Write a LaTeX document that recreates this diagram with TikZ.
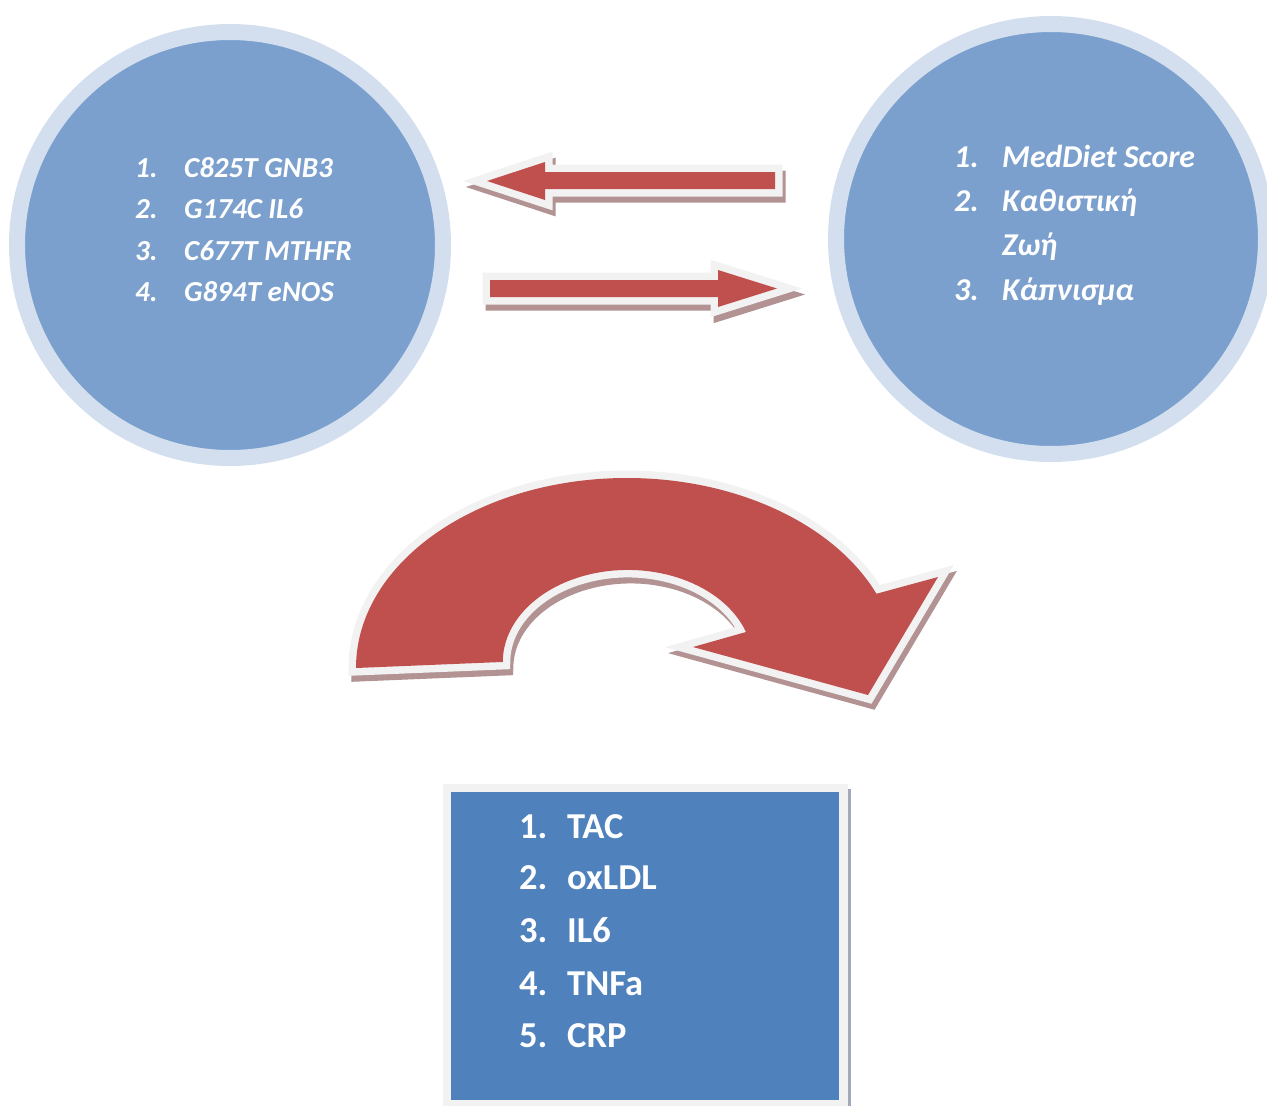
\documentclass[tikz,border=0pt]{standalone}
\usepackage{fontspec}
\setmainfont{Carlito}
\definecolor{ring}{RGB}{211,223,238}
\definecolor{disk}{RGB}{123,160,205}
\definecolor{boxblue}{RGB}{79,129,189}
\definecolor{arrowred}{RGB}{192,80,77}
\definecolor{outl}{RGB}{242,242,242}
\definecolor{shade}{RGB}{178,146,146}
\definecolor{boxshade}{RGB}{160,170,185}
\tikzset{
  bigdisk/.style={circle, fill=disk, draw=ring, line width=16pt, inner sep=0pt},
  itemL/.style={anchor=base west, inner sep=0pt, text=white, font=\fontsize{29}{35}\selectfont\bfseries\itshape},
  itemR/.style={anchor=base west, inner sep=0pt, text=white, font=\fontsize{31.8}{38}\selectfont\bfseries\itshape},
  itemB/.style={anchor=base west, inner sep=0pt, text=white, font=\fontsize{36.5}{43}\selectfont\bfseries},
  arrshadow/.style={fill=shade, draw=shade, line width=15pt, line join=miter},
  arroutline/.style={fill=outl, draw=outl, line width=15pt, line join=miter},
  arrbody/.style={fill=arrowred},
}
\newcommand\blockarrow[2]{%
  \filldraw[arrshadow, shift={#2}] #1;
  \filldraw[arroutline] #1;
  \fill[arrbody] #1;
}
\begin{document}
\begin{tikzpicture}[x=1pt,y=-1pt]
\useasboundingbox (0,0) rectangle (1267,1106);
\clip (0,0) rectangle (1267,1106);

% circles
\node[bigdisk, minimum size=426pt] (genes) at (230,245) {};
\node[bigdisk, minimum size=430pt] (life) at (1051,239) {};

% left list
\node[itemL] (g1n) at (135,177) {1.};
\node[itemL] (g1) at (184,177) {C825T GNB3};
\node[itemL] (g2n) at (135,218) {2.};
\node[itemL] (g2) at (184,218) {G174C IL6};
\node[itemL] (g3n) at (135,260) {3.};
\node[itemL] (g3) at (184,260) {C677T MTHFR};
\node[itemL] (g4n) at (135,301) {4.};
\node[itemL] (g4) at (184,301) {G894T eNOS};

% right list
\node[itemR] (l1n) at (954,167) {1.};
\node[itemR] (l1) at (1002,167) {MedDiet Score};
\node[itemR] (l2n) at (954,211) {2.};
\node[itemR] (l2) at (1002,211) {Καθιστική};
\node[itemR] (l2b) at (1002,255) {Ζωή};
\node[itemR] (l3n) at (954,300) {3.};
\node[itemR] (l3) at (1002,300) {Κάπνισμα};

% straight block arrows
\blockarrow{(487,181) -- (545,162) -- (545,172) -- (775,172) -- (775,189) -- (545,189) -- (545,200) -- cycle}{(3,6)}
\blockarrow{(490,280) -- (718,280) -- (718,270) -- (777,288.5) -- (718,307) -- (718,297) -- (490,297) -- cycle}{(3,6)}

% curved block arrow
\blockarrow{(356,668) arc[start angle=180, end angle=337, x radius=271, y radius=190] -- (938,577) -- (868,695) -- (693,647) -- (746,632) arc[start angle=341, end angle=180, x radius=125, y radius=92] -- cycle}{(3,6)}

% result box
\fill[boxshade] (848,789) rectangle (851,1106);
\fill[outl] (443,784) rectangle (848,1106);
\node[fill=boxblue, draw=none, inner sep=0pt, anchor=north west, minimum width=388pt, minimum height=308pt] (markers) at (451,792) {};

\node[itemB] (m1n) at (519,838) {1.};
\node[itemB] (m1) at (567,838) {TAC};
\node[itemB] (m2n) at (519,889) {2.};
\node[itemB] (m2) at (567,889) {oxLDL};
\node[itemB] (m3n) at (519,942) {3.};
\node[itemB] (m3) at (567,942) {IL6};
\node[itemB] (m4n) at (519,995) {4.};
\node[itemB] (m4) at (567,995) {TNFa};
\node[itemB] (m5n) at (519,1047) {5.};
\node[itemB] (m5) at (567,1047) {CRP};
\end{tikzpicture}
\end{document}
